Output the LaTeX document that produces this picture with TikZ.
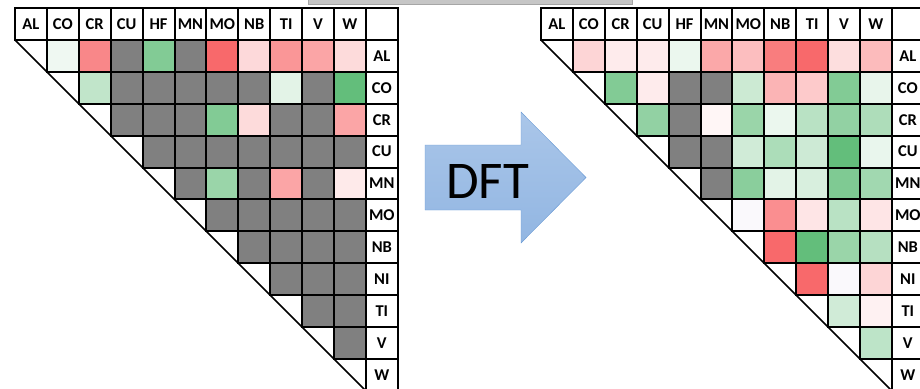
\documentclass[tikz,border=0pt]{standalone}
\usepackage{fontspec}
\setmainfont{Carlito}
\definecolor{hr}{RGB}{248,105,107}
\definecolor{hg}{RGB}{99,190,123}
\definecolor{gg}{RGB}{128,128,128}
\definecolor{bb}{RGB}{106,155,213}
\definecolor{bt}{RGB}{170,198,233}
\definecolor{bd}{RGB}{146,182,226}
\definecolor{sb}{RGB}{198,198,198}
\definecolor{sd}{RGB}{166,166,166}
\definecolor{pw}{RGB}{250,249,252}
\def\csize{31.9}
\tikzset{hcell/.style={draw,line width=2pt,minimum size=\csize pt,inner sep=0pt},
	hlab/.style={hcell,fill=white,font=\bfseries\fontsize{16.5}{16.5}\selectfont}}
\newcommand{\hcell}[3]{\node[hcell,fill=#3] (\mat-#1-#2) at ({(#2+0.5)*\csize},{(#1+1.5)*\csize}) {};}
\newcommand{\collab}[2]{\node[hlab] (\mat-c#1) at ({(#1+0.5)*\csize},{0.5*\csize}) {#2};}
\newcommand{\rowlab}[2]{\node[hlab] (\mat-r#1) at ({11.5*\csize},{(#1+1.5)*\csize}) {#2};}
\begin{document}
\begin{tikzpicture}[x=1pt,y=-1pt]
\clip (0,0) rectangle (920,388);
\draw[draw=sd,fill=sb] (308,-2) rectangle (632,4);

\begin{scope}[xshift=15pt,yshift=-8pt]
\def\mat{L}
\collab{0}{AL}
\collab{1}{CO}
\collab{2}{CR}
\collab{3}{CU}
\collab{4}{HF}
\collab{5}{MN}
\collab{6}{MO}
\collab{7}{NB}
\collab{8}{TI}
\collab{9}{V}
\collab{10}{W}
\collab{11}{}
\rowlab{0}{AL}
\rowlab{1}{CO}
\rowlab{2}{CR}
\rowlab{3}{CU}
\rowlab{4}{MN}
\rowlab{5}{MO}
\rowlab{6}{NB}
\rowlab{7}{NI}
\rowlab{8}{TI}
\rowlab{9}{V}
\rowlab{10}{W}
\hcell{0}{1}{hg!10}
\hcell{0}{2}{hr!80}
\hcell{0}{3}{gg}
\hcell{0}{4}{hg!80}
\hcell{0}{5}{gg}
\hcell{0}{6}{hr}
\hcell{0}{7}{hr!25}
\hcell{0}{8}{hr!70}
\hcell{0}{9}{hr!60}
\hcell{0}{10}{hr!24}
\hcell{1}{2}{hg!40}
\hcell{1}{3}{gg}
\hcell{1}{4}{gg}
\hcell{1}{5}{gg}
\hcell{1}{6}{gg}
\hcell{1}{7}{gg}
\hcell{1}{8}{hg!18}
\hcell{1}{9}{gg}
\hcell{1}{10}{hg}
\hcell{2}{3}{gg}
\hcell{2}{4}{gg}
\hcell{2}{5}{gg}
\hcell{2}{6}{hg!80}
\hcell{2}{7}{hr!24}
\hcell{2}{8}{gg}
\hcell{2}{9}{gg}
\hcell{2}{10}{hr!60}
\hcell{3}{4}{gg}
\hcell{3}{5}{gg}
\hcell{3}{6}{gg}
\hcell{3}{7}{gg}
\hcell{3}{8}{gg}
\hcell{3}{9}{gg}
\hcell{3}{10}{gg}
\hcell{4}{5}{gg}
\hcell{4}{6}{hg!65}
\hcell{4}{7}{gg}
\hcell{4}{8}{hr!60}
\hcell{4}{9}{gg}
\hcell{4}{10}{hr!14}
\hcell{5}{6}{gg}
\hcell{5}{7}{gg}
\hcell{5}{8}{gg}
\hcell{5}{9}{gg}
\hcell{5}{10}{gg}
\hcell{6}{7}{gg}
\hcell{6}{8}{gg}
\hcell{6}{9}{gg}
\hcell{6}{10}{gg}
\hcell{7}{8}{gg}
\hcell{7}{9}{gg}
\hcell{7}{10}{gg}
\hcell{8}{9}{gg}
\hcell{8}{10}{gg}
\hcell{9}{10}{gg}
\draw[line width=1.6pt] (0,\csize) -- ({11*\csize},{12*\csize});
\end{scope}

\draw[draw=bb,top color=bt,bottom color=bd] (425,145) -- (521,145) -- (521,112) -- (586,177.5) -- (521,243) -- (521,210) -- (425,210) -- cycle;
\node[font=\fontsize{53}{53}\selectfont,inner sep=0pt] (dft) at (487.5,181) {DFT};

\begin{scope}[xshift=541pt,yshift=-8pt]
\def\mat{R}
\collab{0}{AL}
\collab{1}{CO}
\collab{2}{CR}
\collab{3}{CU}
\collab{4}{HF}
\collab{5}{MN}
\collab{6}{MO}
\collab{7}{NB}
\collab{8}{TI}
\collab{9}{V}
\collab{10}{W}
\collab{11}{}
\rowlab{0}{AL}
\rowlab{1}{CO}
\rowlab{2}{CR}
\rowlab{3}{CU}
\rowlab{4}{MN}
\rowlab{5}{MO}
\rowlab{6}{NB}
\rowlab{7}{NI}
\rowlab{8}{TI}
\rowlab{9}{V}
\rowlab{10}{W}
\hcell{0}{1}{hr!28}
\hcell{0}{2}{hr!13}
\hcell{0}{3}{hr!13}
\hcell{0}{4}{hg!13}
\hcell{0}{5}{hr!58}
\hcell{0}{6}{hr!43}
\hcell{0}{7}{hr!87}
\hcell{0}{8}{hr}
\hcell{0}{9}{hr!22}
\hcell{0}{10}{hr!45}
\hcell{1}{2}{hg!80}
\hcell{1}{3}{hr!13}
\hcell{1}{4}{gg}
\hcell{1}{5}{gg}
\hcell{1}{6}{hg!33}
\hcell{1}{7}{hr!50}
\hcell{1}{8}{hr!35}
\hcell{1}{9}{hg!80}
\hcell{1}{10}{hg!15}
\hcell{2}{3}{hg!70}
\hcell{2}{4}{gg}
\hcell{2}{5}{hr!6}
\hcell{2}{6}{hg!65}
\hcell{2}{7}{hg!13}
\hcell{2}{8}{hg!45}
\hcell{2}{9}{hg!70}
\hcell{2}{10}{hg!52}
\hcell{3}{4}{gg}
\hcell{3}{5}{gg}
\hcell{3}{6}{hg!30}
\hcell{3}{7}{hg!53}
\hcell{3}{8}{hg!32}
\hcell{3}{9}{hg}
\hcell{3}{10}{hg!14}
\hcell{4}{5}{gg}
\hcell{4}{6}{hg!75}
\hcell{4}{7}{hg!18}
\hcell{4}{8}{hg!25}
\hcell{4}{9}{hg!82}
\hcell{4}{10}{hg!60}
\hcell{5}{6}{pw}
\hcell{5}{7}{hr!75}
\hcell{5}{8}{hr!17}
\hcell{5}{9}{hg!45}
\hcell{5}{10}{hr!17}
\hcell{6}{7}{hr}
\hcell{6}{8}{hg}
\hcell{6}{9}{hg!65}
\hcell{6}{10}{hg!47}
\hcell{7}{8}{hr}
\hcell{7}{9}{pw}
\hcell{7}{10}{hr!28}
\hcell{8}{9}{hg!30}
\hcell{8}{10}{hr!9}
\hcell{9}{10}{hg!42}
\draw[line width=1.6pt] (0,\csize) -- ({11*\csize},{12*\csize});
\end{scope}
\end{tikzpicture}
\end{document}
